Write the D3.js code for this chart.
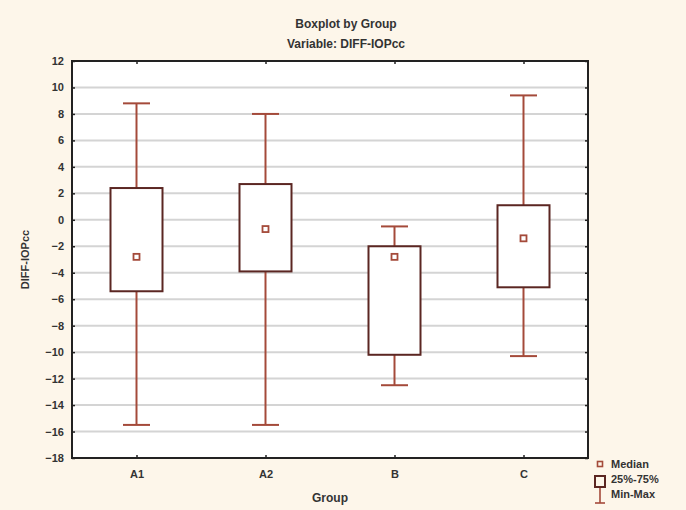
<!DOCTYPE html>
<html>
<head>
<meta charset="utf-8">
<script src="https://cdn.jsdelivr.net/npm/d3@7"></script>
<style>
  body { margin: 0; background: #fdf6ea; }
  svg { display: block; }
  text { font-family: "Liberation Sans", Arial, sans-serif; fill: #333; }
</style>
</head>
<body>
<div id="app"></div>
<script>
const width = 686
const height = 510
const margin = { top: 61, right: 98, bottom: 52, left: 72 }

// data
const groups = ['A1', 'A2', 'B', 'C']
const mins = [-15.5, -15.5, -12.5, -10.3]
const q1s = [-5.4, -3.9, -10.2, -5.1]
const medians = [-2.8, -0.7, -2.8, -1.4]
const q3s = [2.4, 2.7, -2.0, 1.1]
const maxs = [8.8, 8.0, -0.5, 9.4]
const yTicks = d3.range(-18, 13, 2)

const boxColor = '#5b2622'
const whiskerColor = '#a44a3a'

const data = groups.map((g, i) => ({
  group: g, min: mins[i], q1: q1s[i], median: medians[i], q3: q3s[i], max: maxs[i]
}))

const svg = d3.select('#app').append('svg')
  .attr('width', width)
  .attr('height', height)

const x = d3.scalePoint()
  .domain(groups)
  .range([margin.left, width - margin.right])
  .padding(0.5)

const y = d3.scaleLinear()
  .domain([-18, 12])
  .range([height - margin.bottom, margin.top])

const plotW = width - margin.right - margin.left
const plotH = height - margin.bottom - margin.top

// plot background
svg.append('rect')
  .attr('x', margin.left).attr('y', margin.top)
  .attr('width', plotW).attr('height', plotH)
  .attr('fill', '#fff')

// gridlines
svg.append('g')
  .selectAll('line')
  .data(yTicks.filter(d => d > -18 && d < 12))
  .join('line')
  .attr('x1', margin.left).attr('x2', width - margin.right)
  .attr('y1', d => y(d)).attr('y2', d => y(d))
  .attr('stroke', '#d4d4d4')
  .attr('stroke-width', 2)

// axes (ticks inward)
const yAxis = svg.append('g')
  .attr('transform', `translate(${margin.left},0)`)
  .call(d3.axisLeft(y).tickValues(yTicks).tickSize(-3).tickPadding(8))
yAxis.select('.domain').remove()
yAxis.selectAll('text').attr('font-size', 11).attr('font-weight', 'bold')

const yAxisR = svg.append('g')
  .attr('transform', `translate(${width - margin.right},0)`)
  .call(d3.axisRight(y).tickValues(yTicks).tickSize(-3).tickFormat(''))
yAxisR.select('.domain').remove()

const xAxis = svg.append('g')
  .attr('transform', `translate(0,${height - margin.bottom})`)
  .call(d3.axisBottom(x).tickSize(-3).tickPadding(12))
xAxis.select('.domain').remove()
xAxis.selectAll('text').attr('font-size', 11).attr('font-weight', 'bold')

const xAxisT = svg.append('g')
  .attr('transform', `translate(0,${margin.top})`)
  .call(d3.axisTop(x).tickSize(-3).tickFormat(''))
xAxisT.select('.domain').remove()

svg.selectAll('.tick line').attr('stroke', '#222').attr('stroke-width', 1.5)

// frame
svg.append('rect')
  .attr('x', margin.left).attr('y', margin.top)
  .attr('width', plotW).attr('height', plotH)
  .attr('fill', 'none')
  .attr('stroke', '#222')
  .attr('stroke-width', 2)

// boxes
const boxW = 52
const capW = 27
const g = svg.append('g')
  .selectAll('g')
  .data(data)
  .join('g')

g.append('line') // upper whisker
  .attr('x1', d => x(d.group)).attr('x2', d => x(d.group))
  .attr('y1', d => y(d.q3)).attr('y2', d => y(d.max))
  .attr('stroke', whiskerColor).attr('stroke-width', 2)
g.append('line') // lower whisker
  .attr('x1', d => x(d.group)).attr('x2', d => x(d.group))
  .attr('y1', d => y(d.q1)).attr('y2', d => y(d.min))
  .attr('stroke', whiskerColor).attr('stroke-width', 2)
g.append('line')
  .attr('x1', d => x(d.group) - capW / 2).attr('x2', d => x(d.group) + capW / 2)
  .attr('y1', d => y(d.max)).attr('y2', d => y(d.max))
  .attr('stroke', whiskerColor).attr('stroke-width', 2)
g.append('line')
  .attr('x1', d => x(d.group) - capW / 2).attr('x2', d => x(d.group) + capW / 2)
  .attr('y1', d => y(d.min)).attr('y2', d => y(d.min))
  .attr('stroke', whiskerColor).attr('stroke-width', 2)

g.append('rect')
  .attr('x', d => x(d.group) - boxW / 2)
  .attr('y', d => y(d.q3))
  .attr('width', boxW)
  .attr('height', d => y(d.q1) - y(d.q3))
  .attr('fill', '#fff')
  .attr('stroke', boxColor)
  .attr('stroke-width', 2)

g.append('rect')
  .attr('x', d => x(d.group) - 3)
  .attr('y', d => y(d.median) - 3)
  .attr('width', 6).attr('height', 6)
  .attr('fill', '#fff')
  .attr('stroke', whiskerColor)
  .attr('stroke-width', 1.8)

// titles
svg.append('text')
  .attr('x', 346).attr('y', 28)
  .attr('text-anchor', 'middle')
  .attr('font-size', 12).attr('font-weight', 'bold')
  .text('Boxplot by Group')
svg.append('text')
  .attr('x', 346).attr('y', 48)
  .attr('text-anchor', 'middle')
  .attr('font-size', 12).attr('font-weight', 'bold')
  .text('Variable: DIFF-IOPcc')

svg.append('text')
  .attr('x', margin.left + plotW / 2).attr('y', 502)
  .attr('text-anchor', 'middle')
  .attr('font-size', 12).attr('font-weight', 'bold')
  .text('Group')

svg.append('text')
  .attr('transform', `translate(29,${margin.top + plotH / 2}) rotate(-90)`)
  .attr('text-anchor', 'middle')
  .attr('font-size', 11).attr('font-weight', 'bold')
  .text('DIFF-IOPcc')

// legend
const lg = svg.append('g').attr('transform', 'translate(600,0)')
lg.append('rect')
  .attr('x', -2.5).attr('y', 461.5).attr('width', 5).attr('height', 5)
  .attr('fill', 'none').attr('stroke', whiskerColor).attr('stroke-width', 1.6)
lg.append('rect')
  .attr('x', -5).attr('y', 476).attr('width', 10).attr('height', 11)
  .attr('fill', 'none').attr('stroke', boxColor).attr('stroke-width', 2)
lg.append('line')
  .attr('x1', 0).attr('x2', 0).attr('y1', 488).attr('y2', 503)
  .attr('stroke', whiskerColor).attr('stroke-width', 1.6)
lg.append('line')
  .attr('x1', -5).attr('x2', 5).attr('y1', 503).attr('y2', 503)
  .attr('stroke', whiskerColor).attr('stroke-width', 1.6)
const legendLabels = ['Median', '25%-75%', 'Min-Max']
lg.selectAll('text.lab')
  .data(legendLabels)
  .join('text')
  .attr('class', 'lab')
  .attr('x', 11)
  .attr('y', (d, i) => 468 + i * 15)
  .attr('font-size', 11).attr('font-weight', 'bold')
  .text(d => d)
</script>
</body>
</html>
